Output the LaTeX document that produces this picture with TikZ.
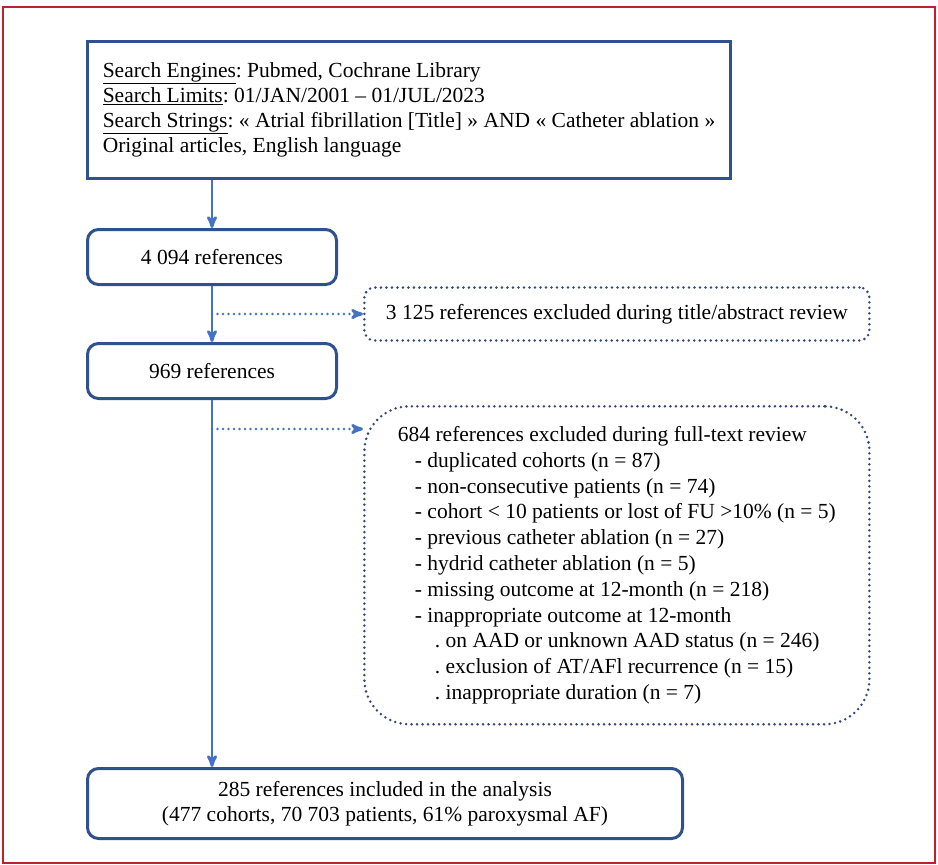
\documentclass[tikz,border=0pt]{standalone}
\usepackage{fontspec}
\setmainfont{Liberation Serif}
\usepackage{tikz}
\usetikzlibrary{arrows}
\usetikzlibrary{positioning,calc}
\definecolor{boxblue}{RGB}{47,82,143}
\definecolor{arrowblue}{RGB}{68,114,196}
\definecolor{dotblue}{RGB}{52,72,122}
\definecolor{framered}{RGB}{190,32,44}
\frenchspacing

\begin{document}
\begin{tikzpicture}[x=1pt,y=-1pt,>=stealth',
    main box/.style={draw=boxblue,line width=3pt,fill=white,inner sep=0pt,
                     font=\fontsize{21.5}{25}\selectfont},
    count box/.style={main box,rounded corners=11pt,minimum width=249pt,minimum height=55pt},
    excl box/.style={draw=dotblue,line width=2.8pt,dash pattern=on 0pt off 5.5pt,line cap=round,
                     inner sep=0pt,minimum width=505pt,font=\fontsize{21.5}{25.8}\selectfont},
    flow/.style={->,draw=arrowblue,line width=2.8pt},
    side flow/.style={flow,dash pattern=on 0pt off 5.5pt,line cap=round}]

      \useasboundingbox (0,0) rectangle (938,865);
      \draw[framered,line width=2.4pt] (3,7) rectangle (935,863);

      \node[main box,anchor=north west,minimum width=643pt,minimum height=137pt,align=left] (search) at (86,40)
        {\underline{Search Engines}: Pubmed, Cochrane Library\\
         \underline{Search Limits}: 01/JAN/2001 – 01/JUL/2023\\
         \underline{Search Strings}: « Atrial fibrillation [Title] » AND « Catheter ablation »\\
         Original articles, English language};
      \node[count box] (all) [below=48pt of search.south west,anchor=north west] {4 094 references};
      \node[count box] (screened) [below=56pt of all] {969 references};
      \node[count box,minimum width=595pt,minimum height=70pt,align=center] (included)
        [below=367pt of screened.south west,anchor=north west]
        {285 references included in the analysis\\(477 cohorts, 70 703 patients, 61\% paroxysmal AF)};

      \coordinate (split1) at ($(all.south)!.5!(screened.north)$);
      \coordinate (split2) at ($(screened.south)+(0,29)$);
      \node[excl box,rounded corners=10pt,minimum height=53pt] (titles) [right=151pt of split1]
        {3 125 references excluded during title/abstract review};
      \node[excl box,rounded corners=45pt,minimum height=318pt,align=left] (fulltext)
        [below=63pt of titles.south west,anchor=north west]
        {684 references excluded during full-text review\\
         \hspace*{17pt}- duplicated cohorts (n = 87)\\
         \hspace*{17pt}- non-consecutive patients (n = 74)\\
         \hspace*{17pt}- cohort < 10 patients or lost of FU >10\% (n = 5)\\
         \hspace*{17pt}- previous catheter ablation (n = 27)\\
         \hspace*{17pt}- hydrid catheter ablation (n = 5)\\
         \hspace*{17pt}- missing outcome at 12-month (n = 218)\\
         \hspace*{17pt}- inappropriate outcome at 12-month\\
         \hspace*{37pt}. on AAD or unknown AAD status (n = 246)\\
         \hspace*{37pt}. exclusion of AT/AFl recurrence (n = 15)\\
         \hspace*{37pt}. inappropriate duration (n = 7)};

      \draw[flow] (search.south -| all.north) -- (all);
      \draw[flow] (all) -- (screened);
      \draw[flow] (screened) -- (screened |- included.north);
      \draw[side flow] (split1) -- (titles);
      \draw[side flow] (split2) -- (split2 -| fulltext.west);
    \end{tikzpicture}
\end{document}
